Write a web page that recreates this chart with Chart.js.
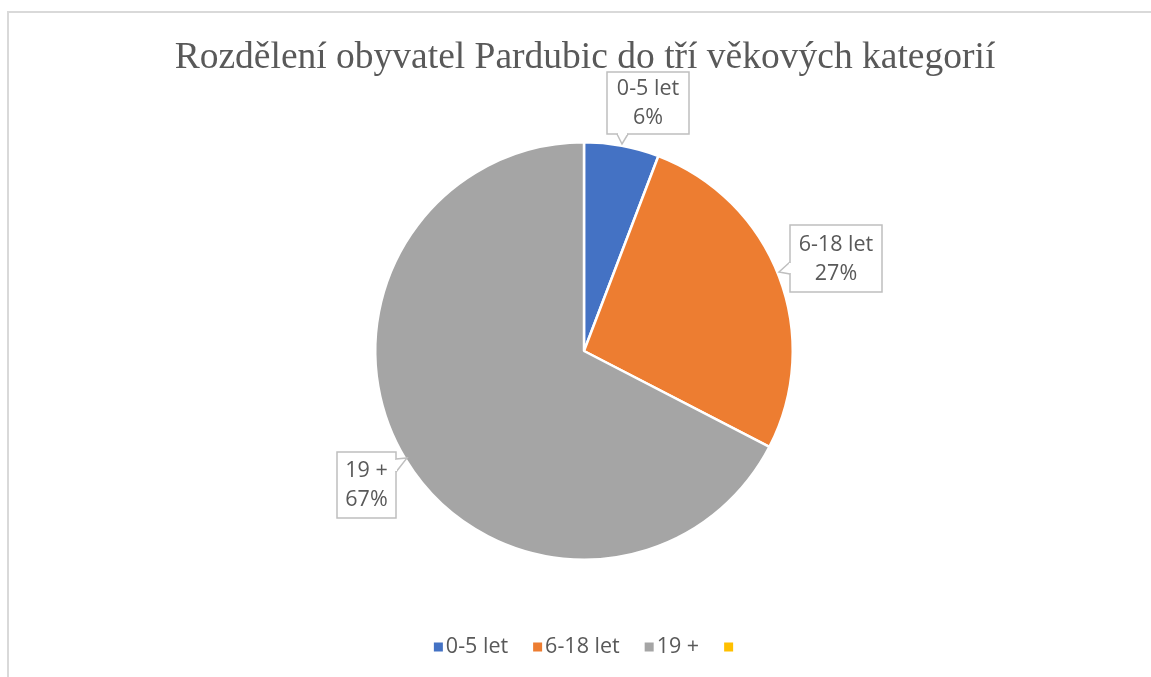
<!DOCTYPE html>
<html>
<head>
<meta charset="utf-8">
<script src="https://cdn.jsdelivr.net/npm/chart.js@4"></script>
<style>
  html, body { margin: 0; padding: 0; background: #fff; }
  #wrap { position: relative; width: 1151px; height: 677px; overflow: hidden; }
  #frame { position: absolute; left: 7px; top: 11px; width: 1200px; height: 700px;
           border-top: 2px solid #d9d9d9; border-left: 2px solid #d9d9d9; box-sizing: border-box; }
  canvas { position: absolute; left: 0; top: 0; }
</style>
</head>
<body>
<div id="wrap">
  <div id="frame"></div>
  <canvas id="pie" width="1151" height="677"></canvas>
</div>
<script>
// Chart data
const titleText = 'Rozdělení obyvatel Pardubic do tří věkových kategorií';
const categories = ['0-5 let', '6-18 let', '19 +', ''];
const shares = [5.8, 26.8, 67.4, 0];
const colors = ['#4472C4', '#ED7D31', '#A5A5A5', '#FFC000'];

const textColor = '#595959';
const labelFont = '21.5px "Open Sans", sans-serif';

// callout boxes: box rect + pointer (base points and tip)
const callouts = [
  { x: 607, y: 72, w: 82, h: 62, ptr: [[617, 134], [628, 134], [622, 144]] },
  { x: 790, y: 225, w: 92, h: 67, ptr: [[790, 262], [790, 274], [779, 272]] },
  { x: 337, y: 452, w: 59, h: 66, ptr: [[396, 459], [396, 472], [407, 458]] }
];

const decorPlugin = {
  id: 'decor',
  afterDraw(chart) {
    const ctx = chart.ctx;
    const total = shares.reduce((a, b) => a + b, 0);

    // title
    ctx.save();
    ctx.fillStyle = textColor;
    ctx.font = '37.5px "Liberation Serif", serif';
    ctx.textAlign = 'center';
    ctx.textBaseline = 'alphabetic';
    ctx.fillText(titleText, 585, 68);
    ctx.restore();

    // data label callouts
    callouts.forEach((c, i) => {
      const p = c.ptr;
      ctx.save();
      ctx.fillStyle = '#fff';
      ctx.strokeStyle = '#bfbfbf';
      ctx.lineWidth = 1.5;
      ctx.beginPath();
      ctx.rect(c.x, c.y, c.w, c.h);
      ctx.fill();
      ctx.stroke();
      // pointer
      ctx.beginPath();
      ctx.moveTo(p[0][0], p[0][1]);
      ctx.lineTo(p[2][0], p[2][1]);
      ctx.lineTo(p[1][0], p[1][1]);
      ctx.closePath();
      ctx.fill();
      ctx.beginPath();
      ctx.moveTo(p[0][0], p[0][1]);
      ctx.lineTo(p[2][0], p[2][1]);
      ctx.lineTo(p[1][0], p[1][1]);
      ctx.stroke();
      // erase box edge inside pointer base
      ctx.strokeStyle = '#fff';
      ctx.lineWidth = 2;
      ctx.beginPath();
      if (p[0][0] === p[1][0]) {
        ctx.moveTo(p[0][0], p[0][1] + 1);
        ctx.lineTo(p[1][0], p[1][1] - 1);
      } else {
        ctx.moveTo(p[0][0] + 1, p[0][1]);
        ctx.lineTo(p[1][0] - 1, p[1][1]);
      }
      ctx.stroke();

      const pct = Math.round(shares[i] / total * 100) + '%';
      ctx.fillStyle = textColor;
      ctx.font = labelFont;
      ctx.textAlign = 'center';
      ctx.textBaseline = 'middle';
      const cx = c.x + c.w / 2;
      ctx.fillText(categories[i], cx, c.y + c.h / 2 - 14);
      ctx.fillText(pct, cx, c.y + c.h / 2 + 15);
      ctx.restore();
    });

    // legend
    ctx.save();
    ctx.font = labelFont;
    ctx.textBaseline = 'middle';
    const box = 9, gap = 3, spacing = 25, ly = 647;
    let widths = categories.map(t => box + gap + ctx.measureText(t).width);
    let totalW = widths.reduce((a, b) => a + b, 0) + spacing * (categories.length - 1);
    let x = 585 - totalW / 2;
    categories.forEach((t, i) => {
      ctx.fillStyle = colors[i];
      ctx.fillRect(x, ly - box / 2, box, box);
      ctx.fillStyle = textColor;
      ctx.fillText(t, x + box + gap, ly);
      x += widths[i] + spacing;
    });
    ctx.restore();
  }
};

new Chart(document.getElementById('pie'), {
  type: 'pie',
  data: {
    labels: categories,
    datasets: [{
      data: shares,
      backgroundColor: colors,
      borderColor: '#ffffff',
      borderWidth: 2.5
    }]
  },
  options: {
    responsive: false,
    animation: false,
    layout: { padding: { top: 141, bottom: 116, left: 374, right: 357 } },
    plugins: {
      legend: { display: false },
      title: { display: false },
      tooltip: { enabled: false }
    }
  },
  plugins: [decorPlugin]
});
</script>
</body>
</html>
